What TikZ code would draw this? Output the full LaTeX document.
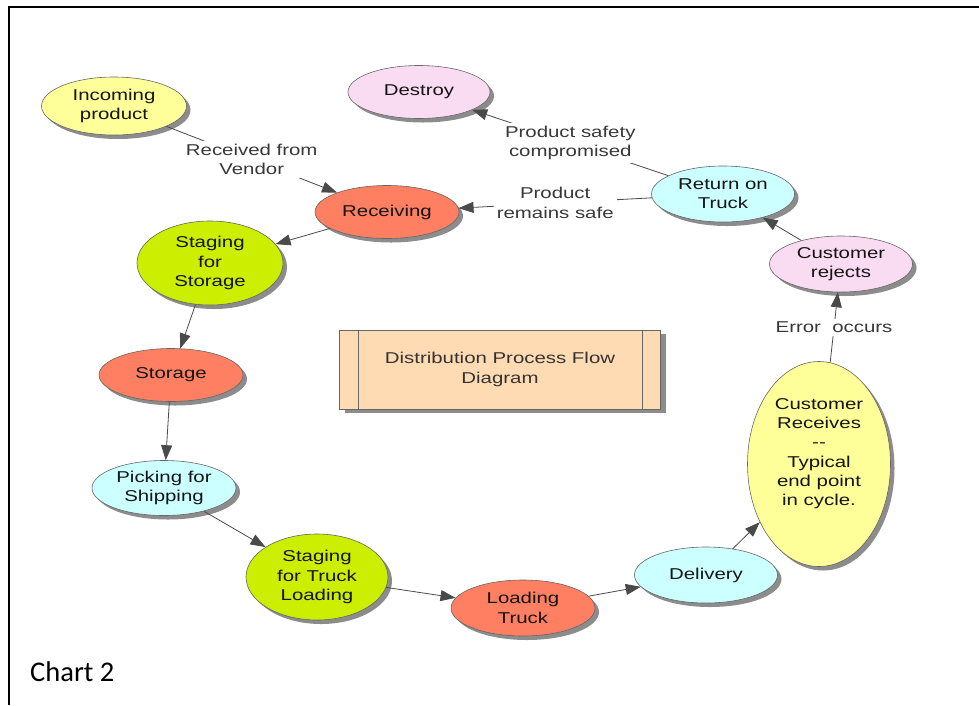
\documentclass[tikz,border=0pt]{standalone}
\usepackage{fontspec}
\setmainfont{Liberation Sans}[FakeStretch=1.3]
\newfontfamily\chartfont{Carlito}
\usetikzlibrary{shapes.geometric,shadows,arrows.meta}

\definecolor{lemonfill}{HTML}{FFFF99}
\definecolor{coralfill}{HTML}{FF7F62}
\definecolor{limefill}{HTML}{CCEE00}
\definecolor{aquafill}{HTML}{CCFFFF}
\definecolor{blushfill}{HTML}{FADCF2}
\definecolor{peachfill}{HTML}{FFDBB3}
\definecolor{edgegray}{HTML}{4A4A4A}

\begin{document}
\begin{tikzpicture}[x=1pt,y=1pt,
  every node/.style={font=\fontsize{15.7}{19.3}\selectfont},
  proc/.style={ellipse,draw=black!60,line width=0.6pt,inner sep=0pt,
    minimum width=144pt,minimum height=55pt,align=center,text=black!92,
    drop shadow={shadow xshift=4pt,shadow yshift=-4pt,fill=black!45,opacity=1}},
  link/.style={draw=edgegray,line width=0.8pt,-{Triangle[length=15pt,width=11pt]}},
  note/.style={fill=white,inner sep=3pt,align=center,text=black!78}]
\useasboundingbox (0,0) rectangle (979,-705);

% frame
\draw[line width=1.4pt] (9,-705) -- (9,-7) -- (979,-7);

% process steps
\node[proc,fill=lemonfill,minimum width=145pt,minimum height=58pt] (incoming) at (114,-106) {Incoming\\product};
\node[proc,fill=blushfill,minimum width=142pt,minimum height=53pt] (destroy) at (419,-92) {Destroy};
\node[proc,fill=coralfill,minimum height=53pt] (receiving) at (387,-212) {Receiving};
\node[proc,fill=limefill,minimum width=146pt,minimum height=84pt] (stagestore) at (210,-263) {Staging\\for\\Storage};
\node[proc,fill=coralfill,minimum height=53pt] (storage) at (171,-375) {Storage};
\node[proc,fill=aquafill] (picking) at (164,-488) {Picking for\\Shipping};
\node[proc,fill=limefill,minimum width=142pt,minimum height=86pt] (stagetruck) at (317,-577) {Staging\\for Truck\\Loading};
\node[proc,fill=coralfill,minimum height=56pt] (loading) at (523,-608) {Loading\\Truck};
\node[proc,fill=aquafill,minimum width=143pt,minimum height=56pt] (delivery) at (706,-575) {Delivery};
\node[proc,fill=lemonfill,minimum width=143pt,minimum height=205pt,text depth=24pt] (custrecv) at (819,-464) {Customer\\Receives\\{-}{-}\\Typical\\end point\\in cycle.};
\node[proc,fill=blushfill,minimum width=143pt,minimum height=56pt] (custrej) at (841,-264) {Customer\\rejects};
\node[proc,fill=aquafill,minimum width=143pt,minimum height=56pt] (return) at (723,-194) {Return on\\Truck};

% title box
\node[draw=black!60,line width=0.6pt,fill=peachfill,minimum width=321pt,minimum height=79pt,
  inner sep=0pt,align=center,text=black!80,
  drop shadow={shadow xshift=5pt,shadow yshift=-4pt,fill=black!45,opacity=1},
  path picture={
    \draw[black!60,line width=0.6pt] ([xshift=19pt]path picture bounding box.north west) -- ([xshift=19pt]path picture bounding box.south west);
    \draw[black!60,line width=0.6pt] ([xshift=-18pt]path picture bounding box.north east) -- ([xshift=-18pt]path picture bounding box.south east);
  }] (title) at (500,-369.5) {Distribution Process Flow\\Diagram};

% flow
\draw[link] (incoming) -- node[note] {Received from\\Vendor} (receiving);
\draw[link] (receiving) -- (stagestore);
\draw[link] (stagestore) -- (storage);
\draw[link] (storage) -- (picking);
\draw[link] (picking) -- (stagetruck);
\draw[link] (stagetruck) -- (loading);
\draw[link] (loading) -- (delivery);
\draw[link] (delivery) -- (custrecv);
\draw[link] (custrecv) -- node[note] {Error\ \ occurs} (custrej);
\draw[link] (custrej) -- (return);
\draw[link] (return) -- node[note] {Product safety\\compromised} (destroy);
\draw[link] (return) -- node[note] {Product\\remains safe} (receiving);

\node[anchor=base west,font=\chartfont\fontsize{28.5}{34}\selectfont,inner sep=0pt] (chart) at (30,-681) {Chart 2};
\end{tikzpicture}
\end{document}
